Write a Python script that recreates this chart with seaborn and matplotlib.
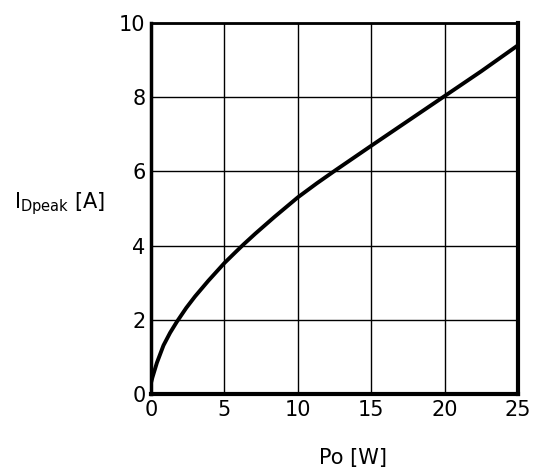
import matplotlib
matplotlib.use("Agg")
import matplotlib.pyplot as plt
import seaborn as sns
import pandas as pd

# Data
po_w = [0.0, 0.1, 0.4, 0.85, 1.3, 1.75, 2.4, 3.0, 3.9, 5.0, 5.8, 6.3, 7.1, 8.4, 10.0,
        11.3, 12.6, 15.0, 17.5, 20.0, 22.5, 25.0]
i_dpeak = [0.30, 0.45, 0.84, 1.31, 1.65, 1.94, 2.32, 2.63, 3.05, 3.53, 3.84, 4.03, 4.32, 4.77, 5.30,
           5.68, 6.04, 6.69, 7.36, 8.03, 8.70, 9.40]
x_ticks = [0, 5, 10, 15, 20, 25]
x_ticklabels = ["0", "5", "10", "15", "20", "25"]
y_ticks = [0, 2, 4, 6, 8, 10]
y_ticklabels = ["0", "2", "4", "6", "8", "10"]

sns.set_theme(style="white")
plt.rcParams["font.family"] = ["DejaVu Sans"]

df = pd.DataFrame({"Po": po_w, "I": i_dpeak})

fig = plt.figure(figsize=(5.49, 4.74), dpi=100)
ax = fig.add_axes([151 / 549, 1 - 394 / 474, (518 - 151) / 549, (394 - 23) / 474])

sns.lineplot(data=df, x="Po", y="I", ax=ax, color="black", linewidth=2.8, sort=True)
ax.lines[0].set_solid_joinstyle("round")
ax.lines[0].set_solid_capstyle("round")

ax.set_xlim(0, 25)
ax.set_ylim(0, 10)
ax.set_xticks(x_ticks)
ax.set_xticklabels(x_ticklabels)
ax.set_yticks(y_ticks)
ax.set_yticklabels(y_ticklabels)
ax.grid(True, color="black", linewidth=1.0)
ax.set_axisbelow(True)
ax.tick_params(axis="both", length=0, labelsize=15, colors="black", pad=4)
ax.set_xlabel("")
ax.set_ylabel("")

for side, lw in {"left": 2.5, "bottom": 3.0, "right": 3.0, "top": 2.0}.items():
    ax.spines[side].set_visible(True)
    ax.spines[side].set_color("black")
    ax.spines[side].set_linewidth(lw)

fig.text(353 / 549, 1 - 458 / 474, "Po [W]", ha="center", va="center", fontsize=15, color="black")
fig.text(14 / 549, 1 - 204 / 474, r"I$_{\mathregular{Dpeak}}$ [A]", ha="left", va="center",
         fontsize=15, color="black")

fig.savefig("out.png", dpi=100)
